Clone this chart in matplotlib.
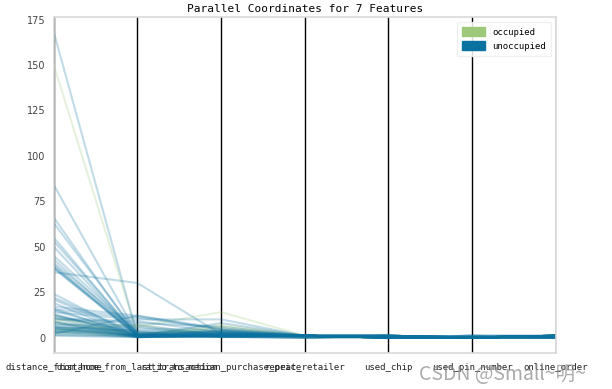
import matplotlib
matplotlib.use("Agg")
import matplotlib.pyplot as plt
from matplotlib.patches import Patch
import numpy as np

features = ["distance_from_home", "distance_from_last_transaction",
            "ratio_to_median_purchase_price", "repeat_retailer",
            "used_chip", "used_pin_number", "online_order"]
classes = ["occupied", "unoccupied"]
class_colors = ["#9fc97a", "#0b71a0"]

# occupied samples (green)
occ_distance_from_home = [150.0, 10.0, 8.0, 6.0, 5.0, 3.0, 2.0, 12.0, 4.0, 9.0]
occ_distance_from_last_transaction = [1.5, 6.0, 2.0, 1.0, 0.5, 3.0, 1.0, 0.8, 7.0, 2.0]
occ_ratio_to_median_purchase_price = [2.0, 14.0, 3.0, 7.0, 6.0, 1.0, 4.0, 2.0, 0.5, 5.0]
occ_repeat_retailer = [1, 1, 0, 1, 1, 1, 0, 1, 1, 1]
occ_used_chip = [0, 1, 0, 0, 1, 0, 1, 0, 0, 1]
occ_used_pin_number = [0, 0, 0, 0, 0, 0, 0, 0, 0, 0]
occ_online_order = [1, 1, 1, 1, 0, 1, 1, 1, 1, 1]

# unoccupied samples (blue)
unocc_distance_from_home = [168.0, 84.0, 66.0, 63.0, 55.0, 53.0, 50.0, 45.0, 43.0, 41.0,
                            40.0, 39.0, 38.5, 38.0, 36.0, 24.0, 22.0, 21.0, 19.0, 17.0,
                            16.0, 15.5, 15.0, 14.0, 13.0, 12.0, 11.0, 10.0, 9.0, 8.0,
                            7.0, 6.5, 6.0, 5.5, 5.0, 4.5, 4.0, 3.5, 3.0, 2.5,
                            2.0, 1.5, 1.0, 3.2, 5.2, 8.5, 10.5, 12.5]
unocc_distance_from_last_transaction = [0.8, 1.5, 0.5, 2.0, 0.3, 1.2, 0.6, 2.5, 0.9, 3.0,
                                        0.4, 1.8, 0.7, 1.1, 30.0, 0.5, 2.2, 1.0, 0.3, 12.0,
                                        0.6, 11.0, 1.4, 10.0, 0.8, 2.8, 0.2, 8.0, 1.6, 0.5,
                                        7.0, 0.9, 3.5, 0.4, 1.3, 0.7, 5.0, 0.3, 1.9, 0.6,
                                        12.0, 0.4, 0.2, 4.0, 6.0, 0.5, 9.0, 1.0]
unocc_ratio_to_median_purchase_price = [1.2, 0.8, 2.0, 0.5, 3.0, 1.5, 0.9, 2.5, 1.1, 0.7,
                                        4.0, 1.3, 0.6, 2.2, 1.8, 0.4, 3.5, 1.0, 0.8, 5.0,
                                        1.6, 4.5, 0.5, 10.0, 2.0, 1.2, 0.9, 6.0, 3.2, 0.7,
                                        1.4, 8.0, 2.8, 0.6, 1.9, 0.5, 3.8, 1.1, 0.4, 2.4,
                                        4.2, 0.8, 1.5, 2.6, 0.3, 1.7, 3.0, 0.9]
unocc_repeat_retailer = [1, 1, 1, 0, 1, 1, 1, 1, 0, 1,
                         1, 1, 1, 1, 1, 0, 1, 1, 1, 1,
                         1, 1, 0, 1, 1, 1, 1, 1, 1, 0,
                         1, 1, 1, 1, 1, 1, 0, 1, 1, 1,
                         1, 1, 1, 1, 0, 1, 1, 1]
unocc_used_chip = [1, 0, 0, 1, 0, 1, 0, 0, 1, 0,
                   0, 1, 0, 0, 1, 0, 0, 1, 0, 1,
                   0, 0, 1, 0, 0, 1, 0, 1, 0, 0,
                   1, 0, 0, 1, 0, 0, 1, 0, 1, 0,
                   0, 1, 0, 0, 1, 0, 0, 1]
unocc_used_pin_number = [0, 0, 0, 0, 1, 0, 0, 0, 0, 0,
                         0, 0, 1, 0, 0, 0, 0, 0, 0, 0,
                         1, 0, 0, 0, 0, 0, 0, 0, 1, 0,
                         0, 0, 0, 0, 0, 1, 0, 0, 0, 0,
                         0, 0, 0, 1, 0, 0, 0, 0]
unocc_online_order = [0, 1, 1, 0, 1, 1, 0, 1, 1, 0,
                      1, 1, 0, 1, 1, 1, 0, 1, 1, 0,
                      1, 1, 1, 0, 1, 0, 1, 1, 0, 1,
                      1, 0, 1, 1, 0, 1, 1, 0, 1, 1,
                      0, 1, 1, 0, 1, 1, 0, 1]

occ = np.column_stack([occ_distance_from_home, occ_distance_from_last_transaction,
                       occ_ratio_to_median_purchase_price, occ_repeat_retailer,
                       occ_used_chip, occ_used_pin_number, occ_online_order])
unocc = np.column_stack([unocc_distance_from_home, unocc_distance_from_last_transaction,
                         unocc_ratio_to_median_purchase_price, unocc_repeat_retailer,
                         unocc_used_chip, unocc_used_pin_number, unocc_online_order])

mono = "DejaVu Sans Mono"
fig = plt.figure(figsize=(6.12, 3.89), dpi=100)
ax = fig.add_axes([0.088, 0.093, 0.820, 0.863])

xs = np.arange(len(features))
for data, color in [(occ, class_colors[0]), (unocc, class_colors[1])]:
    for row in data:
        ax.plot(xs, row, color=color, alpha=0.25, linewidth=1.5)

for x in xs:
    ax.axvline(x, color="black", linewidth=1.0, zorder=1)

ax.set_xlim(0, len(features) - 1)
ax.set_xticks(xs)
ax.set_xticklabels(features, fontsize=6.5, family=mono)
ax.set_yticks([0, 25, 50, 75, 100, 125, 150, 175])
ax.tick_params(axis="y", labelsize=7, length=0, pad=6, colors="#444444")
ax.tick_params(axis="x", length=0, pad=7, colors="#222222")
for s in ax.spines.values():
    s.set_color("#d9d9d9")
    s.set_linewidth(1.2)
    s.set_zorder(3)

ax.set_title("Parallel Coordinates for 7 Features", fontsize=8, family=mono, pad=4)

handles = [Patch(facecolor=c, edgecolor=c, label=l) for c, l in zip(class_colors, classes)]
leg = ax.legend(handles=handles, loc="upper right", prop={"family": mono, "size": 6.5},
                frameon=True, framealpha=0.85, edgecolor="#eeeeee", handlelength=2.5,
                handleheight=1.2, borderpad=0.6, labelspacing=0.5)

fig.text(0.685, 0.022, "CSDN @Small~明~", fontsize=14,
         family=["Noto Sans CJK SC", "DejaVu Sans"], color="#888888", alpha=0.7)

fig.savefig("out.png", dpi=100)
